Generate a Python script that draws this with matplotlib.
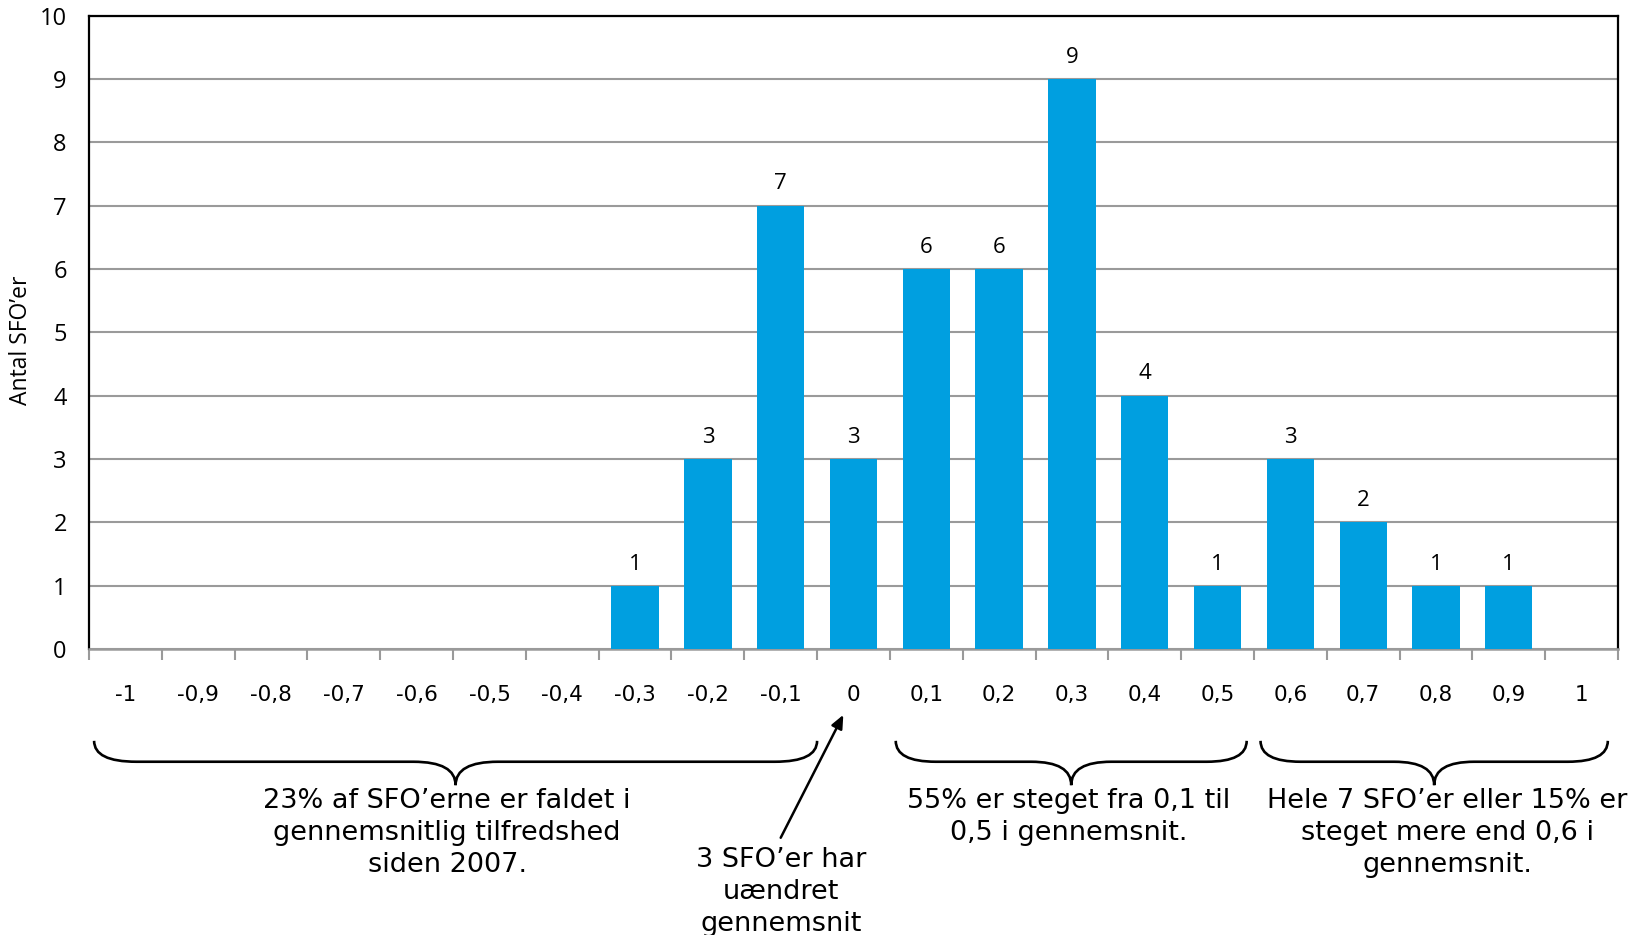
import matplotlib
matplotlib.use("Agg")
import matplotlib.pyplot as plt
from matplotlib.path import Path
from matplotlib.patches import PathPatch

categories = ["-1", "-0,9", "-0,8", "-0,7", "-0,6", "-0,5", "-0,4", "-0,3", "-0,2", "-0,1",
              "0", "0,1", "0,2", "0,3", "0,4", "0,5", "0,6", "0,7", "0,8", "0,9", "1"]
counts = [0, 0, 0, 0, 0, 0, 0, 1, 3, 7, 3, 6, 6, 9, 4, 1, 3, 2, 1, 1, 0]
y_ticks = list(range(0, 11))

group_texts = [
    "23% af SFO\u2019erne er faldet i\ngennemsnitlig tilfredshed\nsiden 2007.",
    "55% er steget fra 0,1 til\n0,5 i gennemsnit.",
    "Hele 7 SFO\u2019er eller 15% er\nsteget mere end 0,6 i\ngennemsnit.",
]
zero_text = "3 SFO\u2019er har\nuændret\ngennemsnit"

bar_color = "#009FE0"
grid_color = "#9a9a9a"


def brace(ax, x0, x1, r, yt=-0.145, yf=-0.178, yp=-0.215):
    xm = (x0 + x1) / 2
    verts = [(x0, yt), (x0, yf), (x0 + r, yf), (xm - r, yf),
             (xm, yf), (xm, yp), (xm, yf), (xm + r, yf),
             (x1 - r, yf), (x1, yf), (x1, yt)]
    codes = [Path.MOVETO, Path.CURVE3, Path.CURVE3, Path.LINETO,
             Path.CURVE3, Path.CURVE3, Path.CURVE3, Path.CURVE3,
             Path.LINETO, Path.CURVE3, Path.CURVE3]
    patch = PathPatch(Path(verts, codes), facecolor="none", edgecolor="black",
                      lw=1.9, transform=ax.get_xaxis_transform(), clip_on=False)
    ax.add_patch(patch)


fig = plt.figure(figsize=(16.42, 9.35), dpi=100)
ax = fig.add_axes([0.0542, 0.3059, 0.9312, 0.6775])

x = list(range(len(categories)))
bars = ax.bar(x, counts, width=0.65, color=bar_color, zorder=3)
ax.bar_label(bars, labels=[str(c) if c > 0 else "" for c in counts],
             padding=8, fontsize=16, family="Open Sans")

ax.set_xlim(-0.5, len(categories) - 0.5)
ax.set_ylim(0, 10)
ax.set_yticks(y_ticks)
ax.set_yticklabels([str(t) for t in y_ticks], family="Open Sans", fontsize=17)
ax.tick_params(axis="y", length=0, pad=16)
ax.yaxis.grid(True, color=grid_color, lw=1.5, zorder=0)

ax.set_xticks(x)
ax.set_xticklabels(categories, fontsize=15.5)
ax.set_xticks([i - 0.5 for i in range(len(categories) + 1)], minor=True)
ax.tick_params(axis="x", which="major", length=0, pad=26)
ax.tick_params(axis="x", which="minor", length=8, width=1.5, color=grid_color)

for side in ["left", "top", "right"]:
    ax.spines[side].set_color("black")
    ax.spines[side].set_linewidth(1.6)
ax.spines["bottom"].set_color(grid_color)
ax.spines["bottom"].set_linewidth(1.8)

fig.text(21 / 1642, 1 - 340 / 935, "Antal SFO\u2019er", rotation=90, ha="center",
         va="center", fontsize=16.5, family="Open Sans")

brace(ax, -0.43, 9.5, 0.58)
brace(ax, 10.58, 15.4, 0.55)
brace(ax, 15.59, 20.36, 0.55)

tx = ax.get_xaxis_transform()
for cx, txt in zip([4.42, 12.96, 18.16], group_texts):
    ax.text(cx, -0.219, txt, transform=tx, ha="center", va="top",
            fontsize=19.5, linespacing=1.3)

ax.text(9.0, -0.312, zero_text, transform=tx, ha="center", va="top",
        fontsize=19.5, linespacing=1.3)
ax.annotate("", xy=(9.86, -0.104), xycoords=tx, xytext=(9.0, -0.298), textcoords=tx,
            arrowprops=dict(arrowstyle="-|>,head_length=0.8,head_width=0.35",
                            color="black", lw=1.8, shrinkA=0, shrinkB=0))

fig.savefig("out.png", dpi=100)
